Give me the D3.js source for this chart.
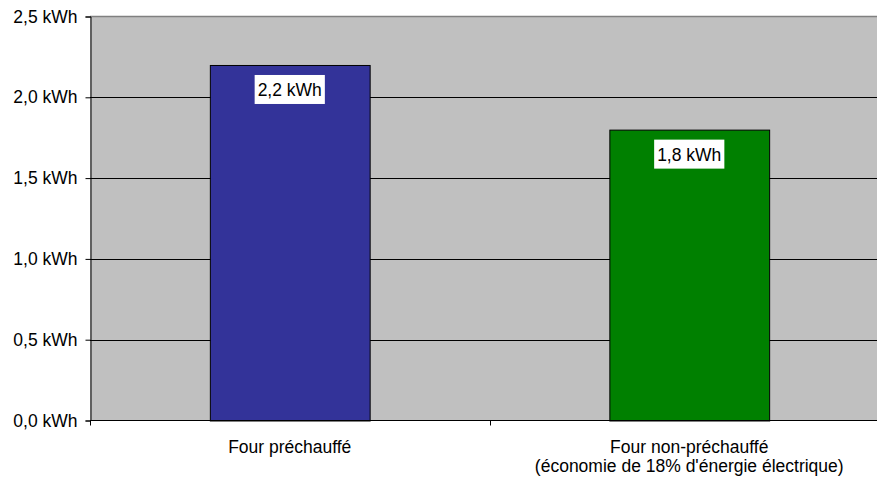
<!DOCTYPE html>
<html>
<head>
<meta charset="utf-8">
<script src="https://cdn.jsdelivr.net/npm/d3@7/dist/d3.min.js"></script>
<style>
  body { margin: 0; background: #fff; }
  svg { display: block; font-family: "Liberation Sans", Arial, sans-serif; }
</style>
</head>
<body>
<svg id="chart" width="877" height="483"></svg>
<script>
var categories = ['Four préchauffé', 'Four non-préchauffé\n(économie de 18% d\'énergie électrique)'];
var values = [2.2, 1.8];
var valueLabels = ['2,2 kWh', '1,8 kWh'];
var colors = ['#333399', '#008000'];
var yTicks = [0, 0.5, 1.0, 1.5, 2.0, 2.5];

(function () {
  var svg = d3.select('#chart');
  var left = 90, right = 889, plotTop = 16.5, plotBottom = 420.5;
  var fontSize = 17.5;

  var x = d3.scaleBand()
    .domain(d3.range(categories.length))
    .range([left, right])
    .paddingInner(0.6)
    .paddingOuter(0.3);

  var y = d3.scaleLinear().domain([0, 2.5]).range([plotBottom, plotTop]);

  // plot area
  svg.append('rect')
    .attr('x', left).attr('y', plotTop)
    .attr('width', right - left).attr('height', plotBottom - plotTop)
    .attr('fill', '#c0c0c0');
  svg.append('line')
    .attr('x1', left).attr('x2', right)
    .attr('y1', plotTop).attr('y2', plotTop)
    .attr('stroke', '#808080').attr('stroke-width', 1.5);

  // gridlines
  svg.append('g').selectAll('line')
    .data(yTicks.filter(function (d) { return d > 0 && d < 2.5; }))
    .enter().append('line')
    .attr('x1', left).attr('x2', right)
    .attr('y1', function (d) { return Math.round(y(d)) + 0.5; })
    .attr('y2', function (d) { return Math.round(y(d)) + 0.5; })
    .attr('stroke', '#000');

  // y axis
  var fmt = function (d) { return d3.format('.1f')(d).replace('.', ',') + ' kWh'; };
  var yAxis = svg.append('g')
    .attr('transform', 'translate(' + (left + 0.5) + ',0)')
    .call(d3.axisLeft(y).tickValues(yTicks).tickSize(5).tickPadding(8).tickFormat(fmt));
  yAxis.select('.domain').attr('stroke', '#000');
  yAxis.selectAll('text').attr('font-size', fontSize).attr('fill', '#000')
    .attr('font-family', '"Liberation Sans", Arial, sans-serif');

  // bars
  var bars = svg.append('g').selectAll('g')
    .data(values)
    .enter().append('g');

  bars.append('rect')
    .attr('x', function (d, i) { return x(i) + 0.5; })
    .attr('y', function (d) { return y(d) + 0.5; })
    .attr('width', x.bandwidth())
    .attr('height', function (d) { return plotBottom - y(d); })
    .attr('fill', function (d, i) { return colors[i]; })
    .attr('stroke', '#000')
    .attr('stroke-width', 1);

  // value labels in white boxes
  bars.each(function (d, i) {
    var g = d3.select(this);
    var cx = x(i) + x.bandwidth() / 2;
    var t = g.append('text')
      .attr('x', cx)
      .attr('y', y(d) + 31)
      .attr('text-anchor', 'middle')
      .attr('font-size', fontSize)
      .attr('fill', '#000')
      .text(valueLabels[i]);
    var w = t.node().getComputedTextLength() + 6;
    g.insert('rect', 'text')
      .attr('x', cx - w / 2)
      .attr('y', y(d) + 10)
      .attr('width', w)
      .attr('height', 29)
      .attr('fill', '#fff');
  });

  // x axis
  var xAxis = svg.append('g');
  xAxis.append('line')
    .attr('x1', left).attr('x2', right)
    .attr('y1', plotBottom).attr('y2', plotBottom)
    .attr('stroke', '#000');
  xAxis.selectAll('line.tick')
    .data(d3.range(categories.length + 1))
    .enter().append('line')
    .attr('class', 'tick')
    .attr('x1', function (d) { return Math.round(left + d * (right - left) / categories.length) + 0.5; })
    .attr('x2', function (d) { return Math.round(left + d * (right - left) / categories.length) + 0.5; })
    .attr('y1', plotBottom).attr('y2', plotBottom + 5)
    .attr('stroke', '#000');

  xAxis.selectAll('text.cat')
    .data(categories)
    .enter().append('text')
    .attr('class', 'cat')
    .attr('text-anchor', 'middle')
    .attr('font-size', fontSize)
    .attr('fill', '#000')
    .each(function (d, i) {
      var lines = d.split('\n');
      var cx = x(i) + x.bandwidth() / 2;
      d3.select(this).selectAll('tspan')
        .data(lines)
        .enter().append('tspan')
        .attr('x', cx)
        .attr('y', function (l, j) { return 453 + j * 19; })
        .text(function (l) { return l; });
    });
})();
</script>
</body>
</html>
